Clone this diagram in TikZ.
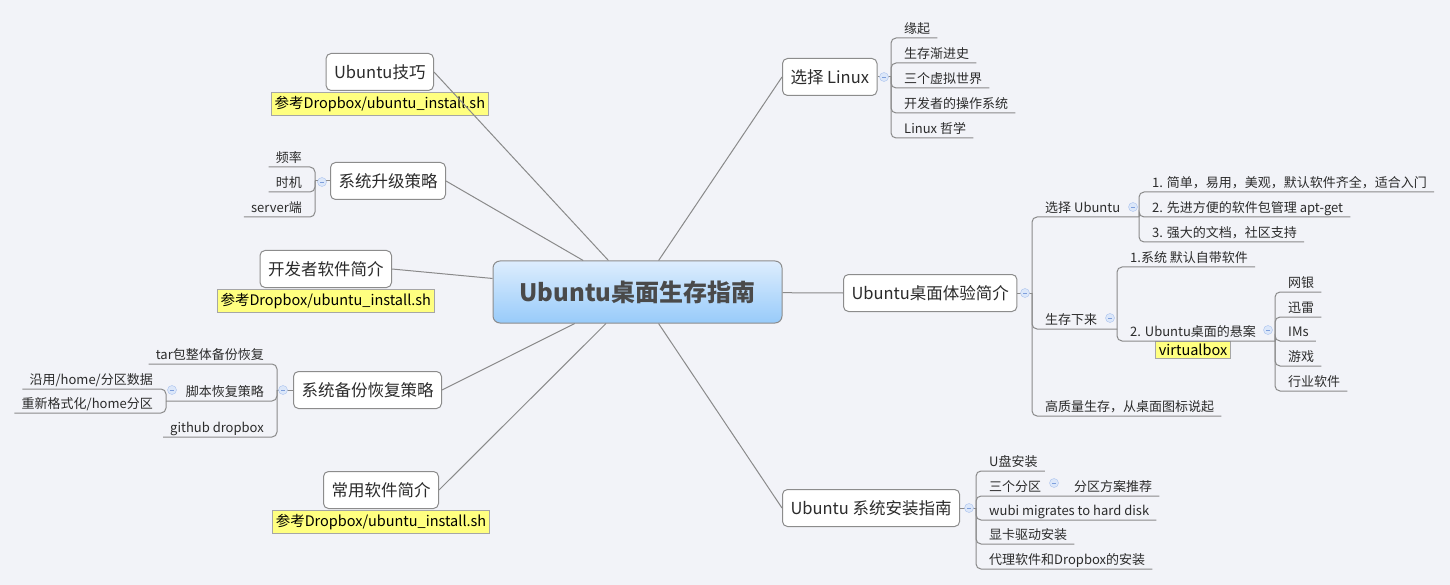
\documentclass[tikz,border=0pt]{standalone}
\usepackage{fontspec}
\setmainfont{Noto Sans CJK SC}
\usetikzlibrary{positioning}
\definecolor{bgcol}{HTML}{F2F3F8}
\definecolor{linecol}{HTML}{8A8A8A}
\definecolor{boxcol}{HTML}{8C8C8C}
\definecolor{textcol}{HTML}{2B2B2B}
\definecolor{roottop}{HTML}{DDEDFD}
\definecolor{rootbot}{HTML}{98CBFA}
\definecolor{roottext}{HTML}{4A4A4A}
\definecolor{notefill}{HTML}{FFFF80}
\definecolor{notebd}{HTML}{A6A6A6}
\definecolor{foldfill}{HTML}{DCE7F9}
\definecolor{foldbd}{HTML}{A9C2EE}
\definecolor{foldmark}{HTML}{7E9FDC}
\tikzstyle{root}=[draw=boxcol, line width=1pt, rounded corners=7pt, top color=roottop, bottom color=rootbot, minimum width=289pt, minimum height=62pt, text=roottext, font=\fontsize{24}{28}\selectfont\bfseries]
\tikzstyle{topic}=[draw=boxcol, line width=1pt, rounded corners=5pt, fill=white, minimum height=37pt, inner xsep=8pt, text=textcol, font=\fontsize{16.5}{19}\selectfont]
\tikzstyle{leaf}=[inner xsep=7pt, inner ysep=2pt, text height=10pt, text depth=2.5pt, text=textcol, font=\fontsize{13}{15}\selectfont]
\tikzstyle{rleaf}=[leaf, anchor=south west]
\tikzstyle{lleaf}=[leaf, anchor=south east]
\tikzstyle{note}=[draw=notebd, line width=1pt, fill=notefill, inner xsep=3pt, inner ysep=3.5pt, text=black, font=\fontsize{14.5}{16}\selectfont]
\tikzstyle{fold}=[circle, draw=foldbd, fill=foldfill, minimum size=9pt, inner sep=0pt, path picture={\draw[foldmark, line width=.8pt] ([xshift=-2pt]path picture bounding box.center) -- ([xshift=2pt]path picture bounding box.center);}]
\tikzstyle{branch}=[draw=linecol, line width=1pt, rounded corners=5pt]

\begin{document}
\begin{tikzpicture}[x=1pt, y=-1pt]
\useasboundingbox (0,0) rectangle (1450,585);
\fill[bgcol] (0,0) rectangle (1450,585);

\node[root] (guide) at (637.5,292) {Ubuntu桌面生存指南};

\node[topic, anchor=west] (linux) at (782,77) {选择 Linux};
\node[topic, anchor=west] (desktop) at (843,293) {Ubuntu桌面体验简介};
\node[topic, anchor=west] (install) at (782,508) {Ubuntu 系统安装指南};
\node[topic, anchor=east] (tips) at (434,72) {Ubuntu技巧};
\node[note, below=1pt of tips] (tips_n) {参考Dropbox/ubuntu\_install.sh};
\node[topic, anchor=east] (upgrade) at (446,181) {系统升级策略};
\node[topic, anchor=east] (devsw) at (392,269) {开发者软件简介};
\node[note, below=1pt of devsw] (devsw_n) {参考Dropbox/ubuntu\_install.sh};
\node[topic, anchor=east] (backup) at (442,390) {系统备份恢复策略};
\node[topic, anchor=east] (apps) at (439,490) {常用软件简介};
\node[note, below=1pt of apps] (apps_n) {参考Dropbox/ubuntu\_install.sh};

\coordinate (linux_b) at (891,77);
\coordinate (desktop_b) at (1032,293);
\coordinate (install_b) at (976,508);
\coordinate (upgrade_b) at (315,181);
\coordinate (backup_b) at (277,390);

\node[rleaf] (linux_1) at (897,38) {缘起};
\node[rleaf] (linux_2) at (897,63) {生存渐进史};
\node[rleaf] (linux_3) at (897,88) {三个虚拟世界};
\node[rleaf] (linux_4) at (897,113) {开发者的操作系统};
\node[rleaf] (linux_5) at (897,138) {Linux 哲学};

\node[rleaf] (desktop_1) at (1038,217) {选择 Ubuntu};
\coordinate (desktop_1_b) at (1139,217);
\node[rleaf] (desktop_1_1) at (1145,192) {1. 简单，易用，美观，默认软件齐全，适合入门};
\node[rleaf] (desktop_1_2) at (1145,217) {2. 先进方便的软件包管理 apt-get};
\node[rleaf] (desktop_1_3) at (1145,242) {3. 强大的文档，社区支持};
\node[rleaf] (desktop_2) at (1038,329) {生存下来};
\coordinate (desktop_2_b) at (1117,329);
\node[rleaf] (desktop_2_1) at (1123,267) {1.系统 默认自带软件};
\node[rleaf] (desktop_2_2) at (1123,341) {2. Ubuntu桌面的悬案};
\coordinate (desktop_2_2_b) at (1275,341);
\node[note, below=0pt of desktop_2_2, inner ysep=2.5pt] (desktop_2_2_n) {virtualbox};
\node[rleaf] (desktop_2_2_1) at (1281,292) {网银};
\node[rleaf] (desktop_2_2_2) at (1281,317) {迅雷};
\node[rleaf] (desktop_2_2_3) at (1281,341) {IMs};
\node[rleaf] (desktop_2_2_4) at (1281,366) {游戏};
\node[rleaf] (desktop_2_2_5) at (1281,391) {行业软件};
\node[rleaf] (desktop_3) at (1038,416) {高质量生存，从桌面图标说起};

\node[rleaf] (install_1) at (982,471) {U盘安装};
\node[rleaf] (install_2) at (982,496) {三个分区};
\coordinate (install_2_b) at (1061,496);
\node[rleaf] (install_2_1) at (1067,496) {分区方案推荐};
\node[rleaf] (install_3) at (982,520) {wubi migrates to hard disk};
\node[rleaf] (install_4) at (982,544) {显卡驱动安装};
\node[rleaf] (install_5) at (982,569) {代理软件和Dropbox的安装};

\node[lleaf] (upgrade_1) at (309,167) {频率};
\node[lleaf] (upgrade_2) at (309,192) {时机};
\node[lleaf] (upgrade_3) at (309,217) {server端};

\node[lleaf] (backup_1) at (271,364) {tar包整体备份恢复};
\node[lleaf] (backup_2) at (271,401) {脚本恢复策略};
\coordinate (backup_2_b) at (166,401);
\node[lleaf] (backup_2_1) at (160,389) {沿用/home/分区数据};
\node[lleaf] (backup_2_2) at (160,413) {重新格式化/home分区};
\node[lleaf] (backup_3) at (271,437) {github dropbox};

\draw[branch] (guide) -- (linux.west);
\draw[branch] (guide) -- (desktop.west);
\draw[branch] (guide) -- (install.west);
\draw[branch] (guide) -- (tips.east);
\draw[branch] (guide) -- (upgrade.east);
\draw[branch] (guide) -- (devsw.east);
\draw[branch] (guide) -- (backup.east);
\draw[branch] (guide) -- (apps.east);

\draw[branch] (linux.east) -- (linux_b);
\foreach \i in {1,...,5}
  \draw[branch] (linux_b) |- (linux_\i.south east);

\draw[branch] (desktop.east) -- (desktop_b);
\draw[branch] (desktop_b) |- (desktop_1_b);
\draw[branch] (desktop_b) |- (desktop_2_b);
\draw[branch] (desktop_b) |- (desktop_3.south east);
\foreach \i in {1,2,3}
  \draw[branch] (desktop_1_b) |- (desktop_1_\i.south east);
\draw[branch] (desktop_2_b) |- (desktop_2_1.south east);
\draw[branch] (desktop_2_b) |- (desktop_2_2_b);
\foreach \i in {1,...,5}
  \draw[branch] (desktop_2_2_b) |- (desktop_2_2_\i.south east);

\draw[branch] (install.east) -- (install_b);
\foreach \i in {1,3,4,5}
  \draw[branch] (install_b) |- (install_\i.south east);
\draw[branch] (install_b) |- (install_2_b) -- (install_2_1.south east);

\draw[branch] (upgrade.west) -- (upgrade_b);
\foreach \i in {1,2,3}
  \draw[branch] (upgrade_b) |- (upgrade_\i.south west);

\draw[branch] (backup.west) -- (backup_b);
\draw[branch] (backup_b) |- (backup_1.south west);
\draw[branch] (backup_b) |- (backup_2_b);
\draw[branch] (backup_b) |- (backup_3.south west);
\foreach \i in {1,2}
  \draw[branch] (backup_2_b) |- (backup_2_\i.south west);

\node[fold] (linux_f) at (884,77) {};
\node[fold] (desktop_f) at (1025,293) {};
\node[fold] (install_f) at (969,508) {};
\node[fold] (upgrade_f) at (322,182) {};
\node[fold] (backup_f) at (283,390) {};
\node[fold] (desktop_1_f) at (1133,207) {};
\node[fold] (desktop_2_f) at (1110,318) {};
\node[fold] (desktop_2_2_f) at (1268,330) {};
\node[fold] (install_2_f) at (1054,483) {};
\node[fold] (backup_2_f) at (172,390) {};
\end{tikzpicture}
\end{document}
